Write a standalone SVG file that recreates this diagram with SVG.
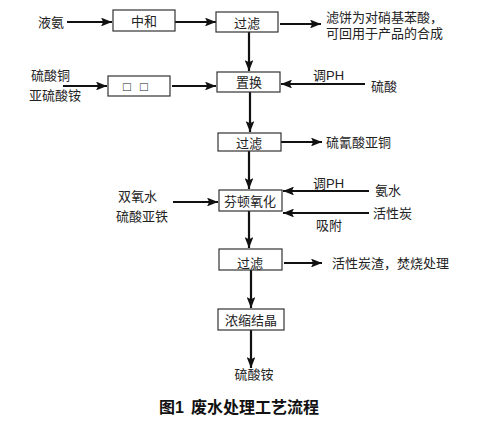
<svg xmlns="http://www.w3.org/2000/svg" width="487" height="427" viewBox="0 0 487 427">
<defs>
<marker id="ah" viewBox="0 0 10 8" refX="10" refY="4" markerWidth="5" markerHeight="4" orient="auto" markerUnits="strokeWidth">
<path d="M0,0 L10,4 L0,8 L2,4 Z" fill="#111"/>
</marker>
</defs>
<style>
.box{fill:#fff;stroke:#333;stroke-width:1.2}
.t{font-family:"Liberation Sans","Noto Sans CJK SC",sans-serif;font-size:13px;fill:#222;dominant-baseline:central}
.c{text-anchor:middle}
.ln{stroke:#111;stroke-width:2.2;fill:none;marker-end:url(#ah)}
.title{font-family:"Liberation Sans","Noto Sans CJK SC",sans-serif;font-size:16px;font-weight:bold;fill:#111;dominant-baseline:central}
</style>
<rect width="487" height="427" fill="#fff"/>
<g id="connectors">
<line class="ln" x1="67" y1="22" x2="112" y2="22"/>
<line class="ln" x1="175" y1="22" x2="216" y2="22"/>
<line class="ln" x1="280" y1="24" x2="321" y2="24"/>
<line class="ln" x1="249" y1="32" x2="249" y2="71"/>
<line class="ln" x1="63" y1="86" x2="107" y2="86"/>
<line class="ln" x1="172" y1="86" x2="216" y2="86"/>
<line class="ln" x1="365" y1="84" x2="281" y2="84"/>
<line class="ln" x1="250" y1="92" x2="250" y2="132"/>
<line class="ln" x1="281" y1="142" x2="322" y2="142"/>
<line class="ln" x1="249" y1="151" x2="249" y2="189"/>
<line class="ln" x1="369" y1="191" x2="283" y2="191"/>
<line class="ln" x1="369" y1="213" x2="283" y2="213"/>
<line class="ln" x1="173" y1="202" x2="218" y2="202"/>
<line class="ln" x1="249" y1="211" x2="249" y2="248"/>
<line class="ln" x1="284" y1="263" x2="322" y2="263"/>
<line class="ln" x1="251" y1="270" x2="251" y2="308"/>
<line class="ln" x1="251" y1="330" x2="251" y2="368"/>
</g>
<g id="n-yean"><text class="t" x="38" y="22">液氨</text></g>
<g id="n-zhonghe"><rect class="box" x="113" y="10" width="62" height="21"/><text class="t c" x="144" y="21">中和</text></g>
<g id="n-guolv1"><rect class="box" x="216" y="12" width="62" height="20"/><text class="t c" x="247" y="23">过滤</text></g>
<g id="n-lvbing"><text class="t" x="326" y="17">滤饼为对硝基苯酸，</text><text class="t" x="326" y="33">可回用于产品的合成</text></g>
<g id="n-cuso4"><text class="t" x="31" y="75">硫酸铜</text><text class="t" x="29" y="95">亚硫酸铵</text></g>
<g id="n-box2"><rect class="box" x="108" y="76" width="62" height="20"/><text class="t c" x="127" y="86">□</text><text class="t c" x="144" y="86">□</text></g>
<g id="n-zhihuan"><rect class="box" x="217" y="72" width="63" height="20"/><text class="t c" x="249" y="82">置换</text></g>
<g id="n-tiaoph1"><text class="t" x="313" y="75">调PH</text></g>
<g id="n-liusuan"><text class="t" x="371" y="86">硫酸</text></g>
<g id="n-guolv2"><rect class="box" x="218" y="133" width="63" height="18"/><text class="t c" x="249" y="143">过滤</text></g>
<g id="n-cuscn"><text class="t" x="326" y="142">硫氰酸亚铜</text></g>
<g id="n-fenton"><rect class="box" x="219" y="190" width="63" height="21"/><text class="t c" x="250" y="201">芬顿氧化</text></g>
<g id="n-tiaoph2"><text class="t" x="313" y="183">调PH</text></g>
<g id="n-anshui"><text class="t" x="375" y="190">氨水</text></g>
<g id="n-huoxingtan"><text class="t" x="373" y="213">活性炭</text></g>
<g id="n-xifu"><text class="t" x="316" y="225">吸附</text></g>
<g id="n-h2o2"><text class="t" x="118" y="196">双氧水</text><text class="t" x="116" y="216">硫酸亚铁</text></g>
<g id="n-guolv3"><rect class="box" x="219" y="249" width="63" height="21"/><text class="t c" x="250" y="263">过滤</text></g>
<g id="n-tanzha"><text class="t" x="332" y="263">活性炭渣，焚烧处理</text></g>
<g id="n-nongsuo"><rect class="box" x="218" y="309" width="66" height="21"/><text class="t c" x="251" y="320">浓缩结晶</text></g>
<g id="n-liuan"><text class="t c" x="254" y="374">硫酸铵</text></g>
<text class="title" x="159" y="407">图1</text>
<text class="title" x="191" y="407">废水处理工艺流程</text>
</svg>
